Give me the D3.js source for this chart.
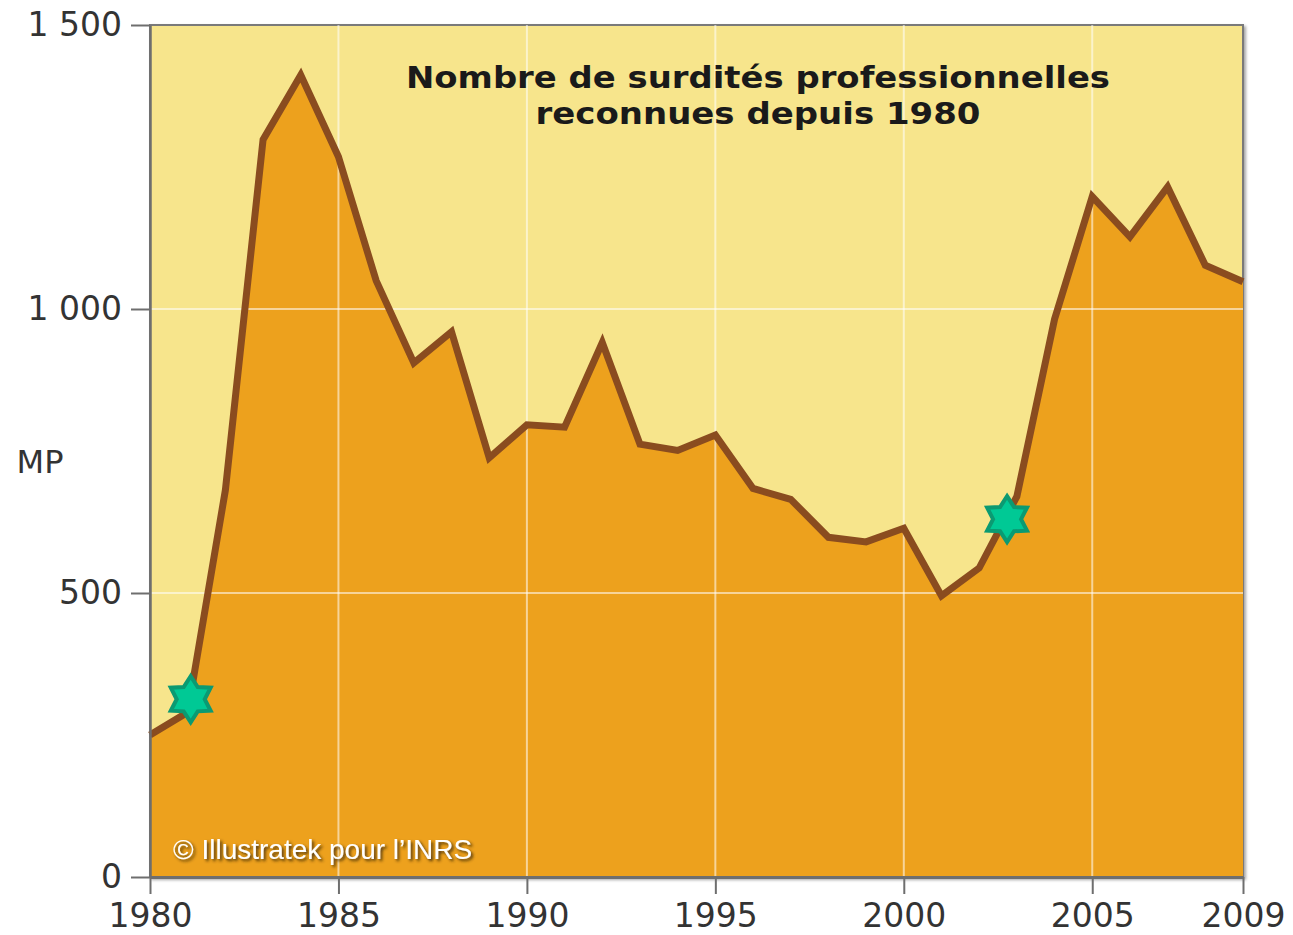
<!DOCTYPE html>
<html>
<head>
<meta charset="utf-8">
<script src="https://cdn.jsdelivr.net/npm/d3@7"></script>
<style>
  html, body { margin: 0; padding: 0; background: #fff; }
  svg { display: block; }
</style>
</head>
<body>
<svg id="chart" width="1293" height="935"></svg>
<script>
const years = d3.range(1980, 2010);
const values = [250, 290, 681, 1298, 1412, 1268, 1050, 905, 960, 738,
                796, 792, 941, 762, 751, 778, 684, 665, 598, 590,
                614, 495, 544, 670, 982, 1198, 1127, 1215, 1077, 1048];
const starYears = [1981.08, 2002.74];
const starValues = [313, 630];
const xTickValues = [1980, 1985, 1990, 1995, 2000, 2005, 2009];
const yTickValues = [0, 500, 1000, 1500];
const yTickLabels = ["0", "500", "1 000", "1 500"];
const gridYears = [1985, 1990, 1995, 2000, 2005];
const gridValues = [500, 1000];
const titleLines = ["Nombre de surdités professionnelles", "reconnues depuis 1980"];
const titleWidths = [704, 445];
const yLabel = "MP";
const credit = "© Illustratek pour l’INRS";

const svg = d3.select("#chart");
const x = d3.scaleLinear().domain([1980, 2009]).range([150, 1243]);
const y = d3.scaleLinear().domain([0, 1500]).range([877, 25]);

const defs = svg.append("defs");
const sh = defs.append("filter").attr("id", "shadow").attr("x", "-10%").attr("y", "-30%").attr("width", "120%").attr("height", "160%");
sh.append("feDropShadow").attr("dx", 2).attr("dy", 2).attr("stdDeviation", 1.5).attr("flood-color", "#3a2a10").attr("flood-opacity", 0.9);
const bsh = defs.append("filter").attr("id", "bshadow").attr("x", "-5%").attr("y", "-5%").attr("width", "110%").attr("height", "110%");
bsh.append("feDropShadow").attr("dx", 2).attr("dy", 2).attr("stdDeviation", 1.5).attr("flood-color", "#000").attr("flood-opacity", 0.35);

// background panel
svg.append("rect")
  .attr("x", x(1980)).attr("y", y(1500))
  .attr("width", x(2009) - x(1980)).attr("height", y(0) - y(1500))
  .attr("fill", "#F7E58C")
  .attr("stroke", "#7a7a7a").attr("stroke-width", 2)
  .attr("filter", "url(#bshadow)");

const data = years.map((yr, i) => ({ yr, v: values[i] }));

// area
svg.append("path")
  .datum(data)
  .attr("fill", "#EDA11D")
  .attr("d", d3.area().x(d => x(d.yr)).y0(y(0)).y1(d => y(d.v)));

// grid lines
svg.append("g").selectAll("line").data(gridYears).join("line")
  .attr("x1", d => x(d)).attr("x2", d => x(d))
  .attr("y1", y(1500)).attr("y2", y(0))
  .attr("stroke", "#ffffff").attr("stroke-opacity", 0.55).attr("stroke-width", 2);
svg.append("g").selectAll("line").data(gridValues).join("line")
  .attr("x1", x(1980)).attr("x2", x(2009))
  .attr("y1", d => y(d)).attr("y2", d => y(d))
  .attr("stroke", "#ffffff").attr("stroke-opacity", 0.55).attr("stroke-width", 2);

// line
svg.append("path")
  .datum(data)
  .attr("fill", "none")
  .attr("stroke", "#8A4C1F")
  .attr("stroke-width", 7)
  .attr("stroke-linejoin", "miter")
  .attr("d", d3.line().x(d => x(d.yr)).y(d => y(d.v)));

// title
const title = svg.append("text")
  .attr("x", 758).attr("y", 88)
  .attr("text-anchor", "middle")
  .attr("font-family", "DejaVu Sans, Verdana, sans-serif")
  .attr("font-weight", "bold")
  .attr("font-size", 30)
  .attr("fill", "#1a1a1a");
titleLines.forEach((t, i) => {
  title.append("tspan").attr("x", 758).attr("dy", i === 0 ? 0 : 36)
    .attr("textLength", titleWidths[i]).attr("lengthAdjust", "spacingAndGlyphs")
    .text(t);
});

// credit
svg.append("text")
  .attr("x", 173).attr("y", 859)
  .attr("font-family", "Liberation Sans, Arial, sans-serif")
  .attr("font-size", 28)
  .attr("fill", "#ffffff")
  .attr("filter", "url(#shadow)")
  .text(credit);

// stars
function hexagram(R, r) {
  const pts = [];
  for (let i = 0; i < 12; i++) {
    const a = -Math.PI / 2 + i * Math.PI / 6;
    const rad = i % 2 === 0 ? R : r;
    pts.push([rad * Math.cos(a), rad * Math.sin(a)]);
  }
  return "M" + pts.map(p => p[0].toFixed(2) + "," + p[1].toFixed(2)).join("L") + "Z";
}
const stars = starYears.map((yr, i) => ({ yr, v: starValues[i] }));
svg.append("g").selectAll("path").data(stars).join("path")
  .attr("transform", d => `translate(${x(d.yr)},${y(d.v)})`)
  .attr("d", hexagram(23, 14))
  .attr("fill", "#00C995")
  .attr("stroke", "#0B9A72")
  .attr("stroke-width", 4)
  .attr("stroke-linejoin", "miter");

// axes
const axisColor = "#6e6e6e";
const xAxis = svg.append("g")
  .attr("transform", `translate(0,${y(0)})`)
  .call(d3.axisBottom(x).tickValues(xTickValues).tickFormat(d3.format("d")).tickSizeInner(17).tickSizeOuter(0).tickPadding(10));
xAxis.select(".domain").attr("stroke", axisColor).attr("stroke-width", 3);
xAxis.selectAll(".tick line").attr("stroke", axisColor).attr("stroke-width", 2);
xAxis.selectAll(".tick text")
  .attr("font-family", "DejaVu Sans, Verdana, sans-serif")
  .attr("font-size", 33).attr("fill", "#333");

const yAxis = svg.append("g")
  .attr("transform", `translate(${x(1980)},0)`)
  .call(d3.axisLeft(y).tickValues(yTickValues)
    .tickFormat(d => yTickLabels[yTickValues.indexOf(d)])
    .tickSizeInner(19).tickSizeOuter(0).tickPadding(9));
yAxis.select(".domain").attr("stroke", axisColor).attr("stroke-width", 2.5);
yAxis.selectAll(".tick line").attr("stroke", axisColor).attr("stroke-width", 2);
yAxis.selectAll(".tick text")
  .attr("font-family", "DejaVu Sans, Verdana, sans-serif")
  .attr("font-size", 33).attr("fill", "#333");

// y label
svg.append("text")
  .attr("x", 40).attr("y", 462)
  .attr("text-anchor", "middle").attr("dominant-baseline", "central")
  .attr("font-family", "DejaVu Sans, Verdana, sans-serif")
  .attr("font-size", 32).attr("fill", "#333")
  .text(yLabel);
</script>
</body>
</html>
